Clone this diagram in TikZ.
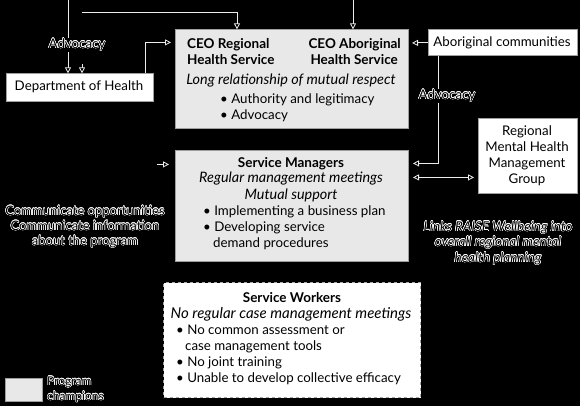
\documentclass[tikz,border=0pt]{standalone}
\usepackage{fontspec}
\setmainfont{Lato}
\usepackage{contour}
\contourlength{0.45pt}
\contournumber{16}
\usetikzlibrary{arrows.meta}
\newcommand\hl[1]{\contour{white}{#1}}
\begin{document}
\begin{tikzpicture}[x=1pt,y=-1pt,
  every node/.style={font=\fontsize{13.3}{15}\selectfont, inner sep=0pt},
  conn/.style={draw=white!85!gray, line width=0.8pt, -{Triangle[open,length=6pt,width=6pt]}},
  dconn/.style={draw=white!85!gray, line width=0.8pt, {Triangle[open,length=6pt,width=6pt]}-{Triangle[open,length=6pt,width=6pt]}},
  gbox/.style={fill=gray!18, draw=gray!75, line width=1pt, anchor=north west},
  wbox/.style={fill=white, draw=gray!75, line width=1pt, anchor=north west},
  dbox/.style={fill=white, draw=gray!70, line width=1pt, dashed, anchor=north west},
  bold/.style={font=\fontsize{13.5}{16}\selectfont\bfseries},
  ital/.style={font=\fontsize{14.4}{16}\selectfont\itshape},
  halotxt/.style={text=black, font=\fontsize{13}{15}\selectfont},
  lab/.style={text=black, fill=black, inner sep=1pt}
]
\fill[black] (0,0) rectangle (580,406);

% boxes
\node[gbox, minimum width=233pt, minimum height=99pt] (ceo) at (175,29) {};
\node[gbox, minimum width=233pt, minimum height=111pt] (sm) at (175,150) {};
\node[dbox, minimum width=257pt, minimum height=115pt] (sw) at (163,282) {};
\node[wbox, minimum width=149pt, minimum height=26pt] (ab) at (428,29) {};
\node[wbox, minimum width=147pt, minimum height=28pt] (doh) at (6,73) {};
\node[wbox, minimum width=99pt, minimum height=75pt] (rm) at (478,118) {};
\node[gbox, minimum width=37pt, minimum height=23pt] (leg) at (5,378) {};

% box texts
\node[anchor=base] (abt) at (502,46) {Aboriginal communities};
\node[anchor=base] (doht) at (79,90) {Department of Health};
\node[anchor=base] (rm1) at (527,135) {Regional};
\node[anchor=base] (rm2) at (527,151) {Mental Health};
\node[anchor=base] (rm3) at (527,167) {Management};
\node[anchor=base] (rm4) at (527,183) {Group};

\node[bold, anchor=base west] (ceo1) at (187,48) {CEO Regional};
\node[bold, anchor=base west] (ceo2) at (187,64) {Health Service};
\node[bold, anchor=base east] (ceo3) at (401,48) {CEO Aboriginal};
\node[bold, anchor=base east] (ceo4) at (398,64) {Health Service};
\node[ital, anchor=base] (ceo5) at (291,84) {Long relationship of mutual respect};
\node[anchor=base west] (ceo6) at (220,103) {\textbullet\ Authority and legitimacy};
\node[anchor=base west] (ceo7) at (220,119) {\textbullet\ Advocacy};

\node[bold, anchor=base] (sm1) at (291,167) {Service Managers};
\node[ital, anchor=base] (sm2) at (291,182) {Regular management meetings};
\node[ital, anchor=base] (sm3) at (291,199) {Mutual support};
\node[anchor=base west] (sm4) at (203,215) {\textbullet\ Implementing a business plan};
\node[anchor=base west] (sm5) at (203,231) {\textbullet\ Developing service};
\node[anchor=base west] (sm6) at (213,247) {demand procedures};

\node[bold, anchor=base] (sw1) at (292,302) {Service Workers};
\node[ital, anchor=base, font=\fontsize{15}{16}\selectfont\itshape] (sw2) at (291,318) {No regular case management meetings};
\node[anchor=base west] (sw3) at (176,334) {\textbullet\ No common assessment or};
\node[anchor=base west] (sw4) at (185,350) {case management tools};
\node[anchor=base west] (sw5) at (176,366) {\textbullet\ No joint training};
\node[anchor=base west] (sw6) at (176,382) {\textbullet\ Unable to develop collective efficacy};

% connectors
\coordinate (t1) at (68,0);
\coordinate (t2) at (82,12);
\coordinate (t3) at (353,0);
\draw[conn] (t1) -- (doh.north -| t1);
\draw[conn] (t2) -| ([xshift=62pt]ceo.north west);
\draw[conn] (82,64) -- (doh.north -| t2);
\draw[conn] (t3) -- (ceo.north -| t3);
\draw[conn, shorten >=4pt] ([xshift=-9pt]doh.north east) |- (ceo.west |- 0,42);
\draw[conn, shorten >=3pt] (ab.west) -- (ceo.east |- ab.west);
\draw[conn, shorten >=4pt] (ab.south -| 438,0) |- (sm.east |- 0,163);
\draw[dconn, shorten >=4pt, shorten <=4pt] (sm.east |- 0,177) -- (rm.west |- 0,177);
\draw[conn, shorten >=6pt] (157,164) -- (sm.west |- 0,164);

% free labels
\node[lab, anchor=base] (adv1) at (77,48) {\hl{Advocacy}};
\node[lab, anchor=base] (adv2) at (447,99) {\hl{Advocacy}};
\node[halotxt, anchor=base] (cm1) at (85,215) {\hl{Communicate opportunities}};
\node[halotxt, anchor=base] (cm2) at (85,230) {\hl{Communicate information}};
\node[halotxt, anchor=base] (cm3) at (85,245) {\hl{about the program}};
\node[halotxt, anchor=base, font=\fontsize{13.5}{15}\selectfont\itshape] (lk1) at (498,231) {\hl{Links RAISE Wellbeing into}};
\node[halotxt, anchor=base, font=\fontsize{13.5}{15}\selectfont\itshape] (lk2) at (498,246) {\hl{overall regional mental}};
\node[halotxt, anchor=base, font=\fontsize{13.5}{15}\selectfont\itshape] (lk3) at (498,262) {\hl{health planning}};
\node[halotxt, anchor=base west, font=\fontsize{12}{15}\selectfont] (lg1) at (47,385) {\hl{Program}};
\node[halotxt, anchor=base west, font=\fontsize{12}{15}\selectfont] (lg2) at (47,400) {\hl{champions}};
\end{tikzpicture}
\end{document}
